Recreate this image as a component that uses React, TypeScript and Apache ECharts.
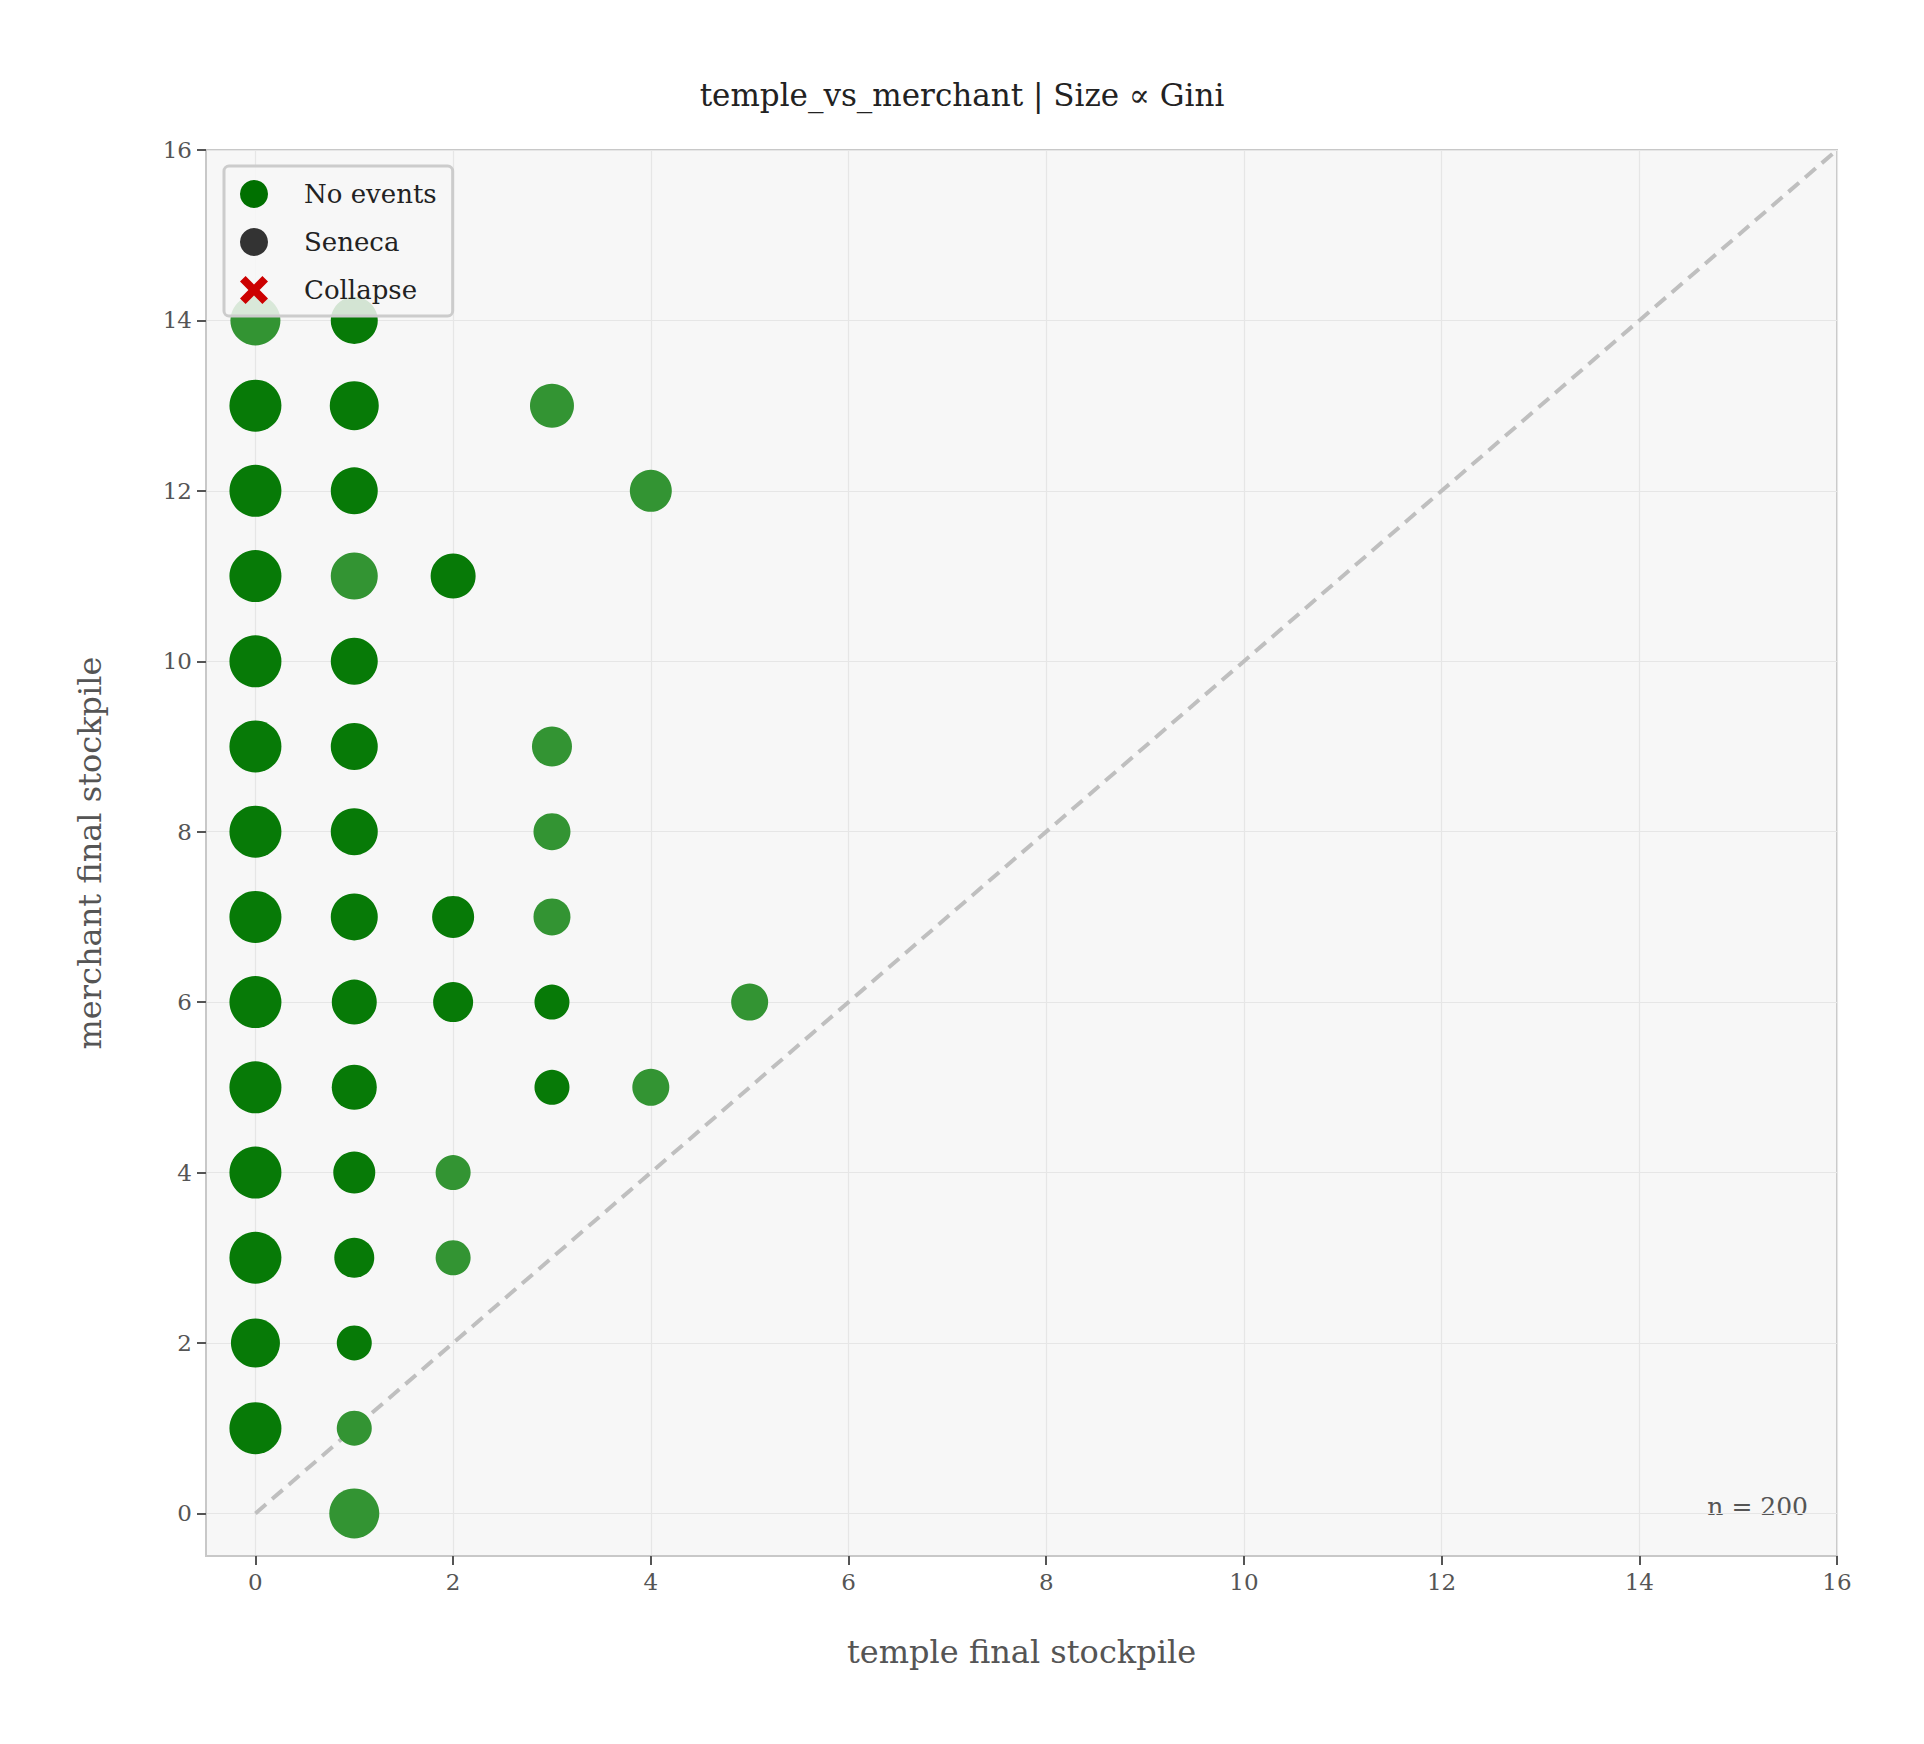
import React, { useEffect, useRef } from "react";
import * as echarts from "echarts";

const tickValues = [0, 2, 4, 6, 8, 10, 12, 14, 16];
// [temple, merchant, marker diameter]
const darkPoints: number[][] = [
  [0, 1, 52], [0, 2, 49], [0, 3, 52], [0, 4, 52], [0, 5, 52], [0, 6, 52], [0, 7, 52],
  [0, 8, 52], [0, 9, 52], [0, 10, 52], [0, 11, 52], [0, 12, 52], [0, 13, 52],
  [1, 2, 35], [1, 3, 40], [1, 4, 42], [1, 5, 45], [1, 6, 45], [1, 7, 47], [1, 8, 47],
  [1, 9, 47], [1, 10, 47], [1, 12, 47], [1, 13, 49], [1, 14, 47],
  [2, 6, 40], [2, 7, 42], [2, 11, 45],
  [3, 5, 35], [3, 6, 35],
];
const lightPoints: number[][] = [
  [0, 14, 50], [1, 0, 50], [1, 1, 35], [1, 11, 47],
  [2, 3, 35], [2, 4, 35],
  [3, 7, 37], [3, 8, 37], [3, 9, 40], [3, 13, 44],
  [4, 5, 37], [4, 12, 42], [5, 6, 37],
];
const diagonal = [[0, 0], [16, 16]];

const FONT = "DejaVu Serif";
const XPATH = "path://M2,0 L5,3 L8,0 L10,2 L7,5 L10,8 L8,10 L5,7 L2,10 L0,8 L3,5 L0,2 Z";

export default function App() {
  const ref = useRef<HTMLDivElement>(null);
  useEffect(() => {
    const chart = echarts.init(ref.current!, null, { renderer: "svg" });
    const axisCommon = {
      min: -0.5,
      max: 16,
      axisLine: { show: true, onZero: false, lineStyle: { color: "#c8c8c8", width: 2 } },
      axisTick: { show: true, inside: false, customValues: tickValues, length: 9, lineStyle: { color: "#555", width: 2 } },
      axisLabel: { customValues: tickValues, color: "#555", fontFamily: FONT, fontSize: 23, margin: 14 },
      splitLine: { show: true, lineStyle: { color: "#e6e6e6", width: 1.2 } },
      nameLocation: "middle" as const,
      nameTextStyle: { color: "#555", fontFamily: FONT, fontSize: 32 },
    };
    chart.setOption({
      animation: false,
      backgroundColor: "#ffffff",
      title: {
        text: "temple_vs_merchant | Size ∝ Gini",
        left: "center",
        top: 74,
        textStyle: { fontFamily: FONT, fontSize: 31, fontWeight: "normal", color: "#222" },
      },
      grid: {
        left: 206, right: 87, top: 150, bottom: 188,
        show: true, backgroundColor: "#f7f7f7", borderColor: "#c8c8c8", borderWidth: 2,
      },
      xAxis: { ...axisCommon, type: "value", name: "temple final stockpile", nameGap: 80 },
      yAxis: { ...axisCommon, type: "value", name: "merchant final stockpile", nameGap: 100 },
      legend: {
        left: 224, top: 166, orient: "vertical", itemGap: 20, itemWidth: 30, itemHeight: 28,
        padding: [14, 16, 12, 16],
        backgroundColor: "rgba(247,247,247,0.85)", borderColor: "#cccccc", borderWidth: 3, borderRadius: 5,
        textStyle: { fontFamily: FONT, fontSize: 26, color: "#222", padding: [0, 0, 0, 30] },
        data: [
          { name: "No events", icon: "circle", itemStyle: { color: "#007000", opacity: 1 } },
          { name: "Seneca", icon: "circle", itemStyle: { color: "#333333", opacity: 1 } },
          { name: "Collapse", icon: XPATH, itemStyle: { color: "#cc0000", opacity: 1 } },
        ],
      },
      series: [
        {
          type: "line", data: diagonal, symbol: "none", silent: true,
          lineStyle: { color: "#bfbfbf", width: 4, type: [14, 8] }, z: 1,
        },
        {
          name: "No events", type: "scatter", data: lightPoints,
          symbolSize: (d: number[]) => d[2], itemStyle: { color: "#339433", opacity: 1 }, z: 2,
        },
        {
          name: "No events", type: "scatter", data: darkPoints,
          symbolSize: (d: number[]) => d[2], itemStyle: { color: "#077a07", opacity: 1 }, z: 2,
        },
        { name: "Seneca", type: "scatter", data: [], itemStyle: { color: "#333333", opacity: 1 } },
        { name: "Collapse", type: "scatter", data: [], itemStyle: { color: "#cc0000", opacity: 1 } },
      ],
      graphic: [
        {
          type: "text", right: 116, top: 1494,
          style: { text: "n = 200", fontFamily: FONT, fontSize: 25, fill: "#555" },
        },
      ],
    });
    return () => chart.dispose();
  }, []);
  return <div ref={ref} style={{ position: "absolute", left: 0, top: 0, width: 1924, height: 1744 }} />;
}
